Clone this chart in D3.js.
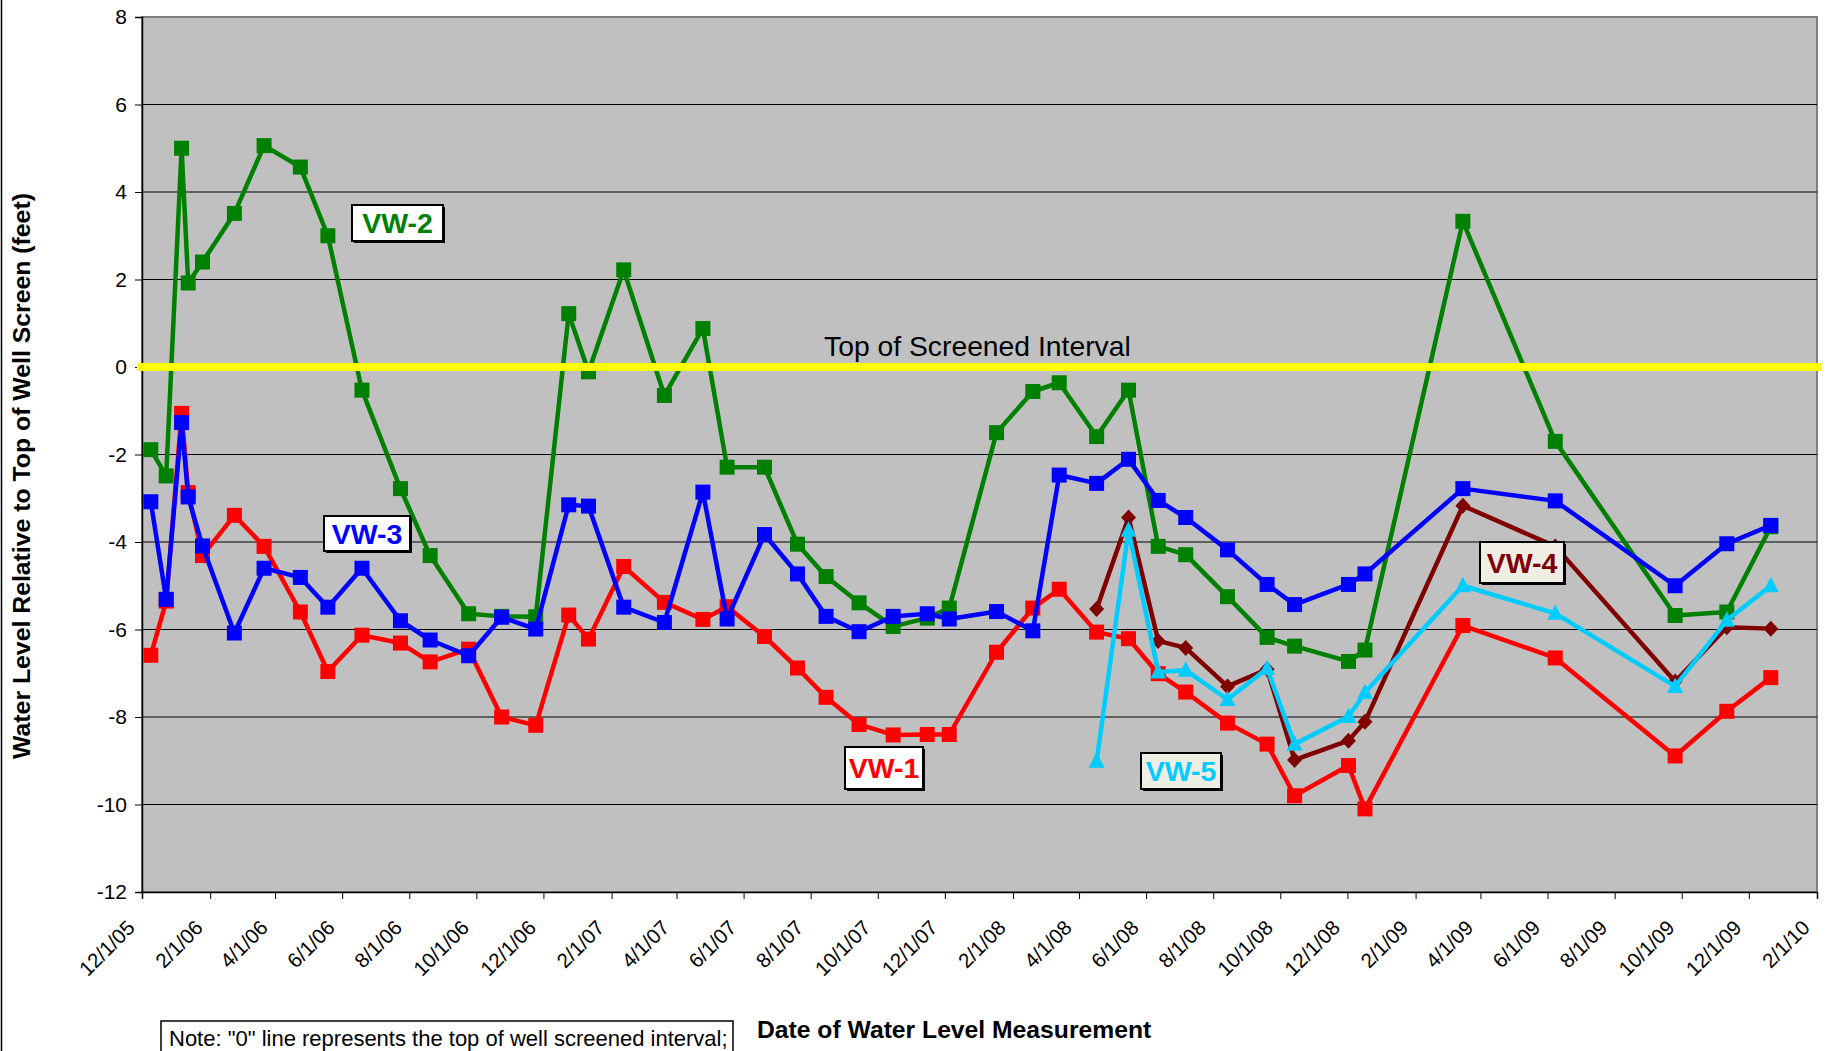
<!DOCTYPE html>
<html><head><meta charset="utf-8">
<script src="https://cdn.jsdelivr.net/npm/d3@7"></script>
<style>
body{margin:0;background:#fff;}
svg{display:block;}
text{font-family:"Liberation Sans",Arial,Helvetica,sans-serif;}
</style>
</head><body>
<svg id="chart" width="1827" height="1051"></svg>
<script>
// ---- data ----
const dates = ["2005-12-09","2005-12-23","2006-01-06","2006-01-12","2006-01-25","2006-02-23","2006-03-22","2006-04-24","2006-05-19","2006-06-19","2006-07-24","2006-08-20","2006-09-24","2006-10-24","2006-11-24","2006-12-24","2007-01-11","2007-02-12","2007-03-21","2007-04-25","2007-05-17","2007-06-20","2007-07-20","2007-08-15","2007-09-14","2007-10-15","2007-11-15","2007-12-05","2008-01-17","2008-02-19","2008-03-14","2008-04-17","2008-05-16","2008-06-12","2008-07-07","2008-08-14","2008-09-19","2008-10-14","2008-12-02","2008-12-17","2009-03-16","2009-06-08","2009-09-25","2009-11-11","2009-12-21"];
const vw1 = [-6.59,-5.35,-1.06,-2.87,-4.31,-3.39,-4.10,-5.60,-6.96,-6.13,-6.31,-6.74,-6.45,-8.00,-8.19,-5.67,-6.22,-4.56,-5.38,-5.77,-5.48,-6.16,-6.88,-7.55,-8.17,-8.41,-8.40,-8.40,-6.52,-5.51,-5.08,-6.06,-6.21,-7.01,-7.43,-8.14,-8.62,-9.80,-9.11,-10.10,-5.91,-6.65,-8.89,-7.87,-7.10];
const vw2 = [-1.89,-2.49,5.00,1.92,2.40,3.51,5.06,4.57,3.00,-0.53,-2.78,-4.31,-5.64,-5.70,-5.71,1.22,-0.11,2.22,-0.65,0.88,-2.29,-2.29,-4.05,-4.79,-5.39,-5.93,-5.74,-5.51,-1.50,-0.56,-0.36,-1.59,-0.53,-4.10,-4.29,-5.25,-6.18,-6.38,-6.73,-6.47,3.33,-1.70,-5.68,-5.60,-3.65];
const vw3 = [-3.08,-5.31,-1.27,-2.97,-4.09,-6.08,-4.60,-4.81,-5.49,-4.60,-5.80,-6.24,-6.60,-5.72,-5.99,-3.15,-3.18,-5.49,-5.84,-2.86,-5.76,-3.83,-4.73,-5.70,-6.05,-5.70,-5.64,-5.76,-5.59,-6.03,-2.47,-2.66,-2.11,-3.05,-3.44,-4.18,-4.97,-5.43,-4.97,-4.73,-2.78,-3.06,-5.00,-4.04,-3.62];
const vw4 = [null,null,null,null,null,null,null,null,null,null,null,null,null,null,null,null,null,null,null,null,null,null,null,null,null,null,null,null,null,null,null,-5.53,-3.44,-6.26,-6.42,-7.30,-6.91,-8.98,-8.54,-8.11,-3.17,-4.10,-7.19,-5.95,-5.98];
const vw5 = [null,null,null,null,null,null,null,null,null,null,null,null,null,null,null,null,null,null,null,null,null,null,null,null,null,null,null,null,null,null,null,-9.01,-3.73,-6.97,-6.93,-7.60,-6.89,-8.62,-7.99,-7.44,-5.00,-5.63,-7.30,-5.79,-5.00];
const seriesNames = ["VW-1","VW-2","VW-3","VW-4","VW-5"];
const yTicks = [-12,-10,-8,-6,-4,-2,0,2,4,6,8];
const xTickLabels = ["12/1/05","2/1/06","4/1/06","6/1/06","8/1/06","10/1/06","12/1/06","2/1/07","4/1/07","6/1/07","8/1/07","10/1/07","12/1/07","2/1/08","4/1/08","6/1/08","8/1/08","10/1/08","12/1/08","2/1/09","4/1/09","6/1/09","8/1/09","10/1/09","12/1/09","2/1/10"];
const screenLevel = 0;
const screenLabel = "Top of Screened Interval";
const yTitle = "Water Level Relative to Top of Well Screen (feet)";
const xTitle = "Date of Water Level Measurement";
const noteText = "Note: \"0\" line represents the top of well screened interval;";

// ---- styles / layout ----
const styles = {
  "VW-1": {color:"#FF0000", marker:"square"},
  "VW-2": {color:"#008000", marker:"square"},
  "VW-3": {color:"#0000FF", marker:"square"},
  "VW-4": {color:"#800000", marker:"diamond"},
  "VW-5": {color:"#00CCFF", marker:"triangle"}
};
const labelBoxes = {
  "VW-2": {x:352, y:205, w:91, h:36, fill:"#FFFFFF"},
  "VW-3": {x:324, y:516, w:86, h:35, fill:"#FFFFFF"},
  "VW-1": {x:845, y:747, w:78, h:42, fill:"#FFFFFF"},
  "VW-4": {x:1480, y:542, w:84, h:41, fill:"#EFEDE4"},
  "VW-5": {x:1141, y:753, w:80, h:36, fill:"#EFEDE4"}
};
const L = 142, R = 1817, T = 17, B = 892;

const parseISO = s => { const [y,m,d] = s.split("-").map(Number); return new Date(Date.UTC(y,m-1,d)); };
const parseMDY = s => { const [m,d,y] = s.split("/").map(Number); return new Date(Date.UTC(2000+y,m-1,d)); };

const svg = d3.select("#chart");
const x = d3.scaleUtc().domain([parseMDY("12/1/05"), parseMDY("2/1/10")]).range([L, R]);
const y = d3.scaleLinear().domain([-12, 8]).range([B, T]);

// left chart border
svg.append("line").attr("x1",1.5).attr("x2",1.5).attr("y1",0).attr("y2",1051).attr("stroke","#000").attr("stroke-width",1.5);

// plot area
svg.append("rect").attr("x",L).attr("y",T).attr("width",R-L).attr("height",B-T)
  .attr("fill","#C0C0C0").attr("stroke","#808080").attr("stroke-width",2);

// gridlines
svg.append("g").selectAll("line").data(yTicks.filter(v=>v!==-12 && v!==8)).join("line")
  .attr("x1",L).attr("x2",R).attr("y1",d=>y(d)).attr("y2",d=>y(d))
  .attr("stroke","#000").attr("stroke-width",1);

// y axis
const yAxis = d3.axisLeft(y).tickValues(yTicks).tickSize(7).tickPadding(8).tickFormat(d3.format("d"));
const gy = svg.append("g").attr("transform",`translate(${L},0)`).call(yAxis);
gy.select(".domain").attr("stroke","#000").attr("stroke-width",1.5);
gy.selectAll(".tick line").attr("stroke","#000");
gy.selectAll(".tick text").attr("font-size",21).attr("fill","#000")
  .attr("font-family","'Liberation Sans',Arial,sans-serif").text(d => d < 0 ? "-" + Math.abs(d) : d);

// x axis
const tickDates = xTickLabels.map(parseMDY);
const xAxis = d3.axisBottom(x).tickValues(tickDates).tickSize(7).tickFormat(() => "");
const gx = svg.append("g").attr("transform",`translate(0,${B})`).call(xAxis);
gx.select(".domain").attr("stroke","#000").attr("stroke-width",1.5);
gx.selectAll(".tick line").attr("stroke","#000");
svg.append("g").selectAll("text").data(xTickLabels).join("text")
  .attr("transform", d => `translate(${x(parseMDY(d)) - 6},${929}) rotate(-45)`)
  .attr("text-anchor","end").attr("font-size",20.5).attr("fill","#000").text(d => d);

// series
const allSeries = [vw1, vw2, vw3, vw4, vw5];
const line = d3.line().defined(d => d.v != null).x(d => x(d.date)).y(d => y(d.v));
const markerPath = (type) => {
  if (type === "square") return "M-7.5,-7.5H7.5V7.5H-7.5Z";
  if (type === "diamond") return "M0,-8L7.5,0L0,8L-7.5,0Z";
  return "M0,-9L8,6.5L-8,6.5Z";
};
seriesNames.forEach((name, i) => {
  const pts = dates.map((ds, j) => ({date: parseISO(ds), v: allSeries[i][j]}));
  const st = styles[name];
  const g = svg.append("g");
  g.append("path").datum(pts).attr("d", line).attr("fill","none")
    .attr("stroke", st.color).attr("stroke-width", 4.5).attr("stroke-linejoin","round");
  g.selectAll("path.m").data(pts.filter(p => p.v != null)).join("path").attr("class","m")
    .attr("transform", p => `translate(${x(p.date)},${y(p.v)})`)
    .attr("d", markerPath(st.marker)).attr("fill", st.color);
});

// top of screened interval line
svg.append("line").attr("x1",L-5).attr("x2",R+4).attr("y1",y(screenLevel)).attr("y2",y(screenLevel))
  .attr("stroke","#FFFF00").attr("stroke-width",8);
svg.append("text").attr("x",824).attr("y",356).attr("font-size",28.3).attr("fill","#000").text(screenLabel);

// series label boxes
seriesNames.forEach(name => {
  const b = labelBoxes[name];
  svg.append("rect").attr("x",b.x+2).attr("y",b.y+2).attr("width",b.w).attr("height",b.h).attr("fill","#000");
  svg.append("rect").attr("x",b.x).attr("y",b.y).attr("width",b.w).attr("height",b.h)
    .attr("fill",b.fill).attr("stroke","#000").attr("stroke-width",2);
  svg.append("text").attr("x",b.x+b.w/2).attr("y",b.y+b.h/2+10).attr("text-anchor","middle")
    .attr("font-size",28.5).attr("font-weight","bold").attr("fill",styles[name].color).text(name);
});

// axis titles
svg.append("text").attr("transform","translate(30,476) rotate(-90)").attr("text-anchor","middle")
  .attr("font-size",24.8).attr("font-weight","bold").attr("fill","#000").text(yTitle);
svg.append("text").attr("x",757).attr("y",1038).attr("font-size",24.7).attr("font-weight","bold").attr("fill","#000").text(xTitle);

// note box (cut at bottom)
svg.append("rect").attr("x",161).attr("y",1021).attr("width",572).attr("height",60)
  .attr("fill","#fff").attr("stroke","#000").attr("stroke-width",1.5);
svg.append("text").attr("x",169).attr("y",1046).attr("font-size",22).attr("fill","#000").text(noteText);
</script>
</body></html>
